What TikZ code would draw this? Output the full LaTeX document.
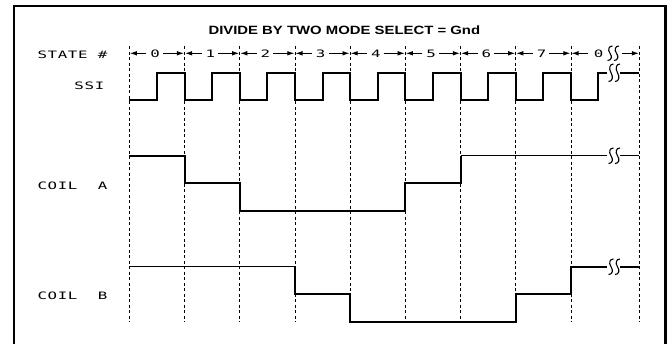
\documentclass[tikz,border=0pt]{standalone}
\usepackage{fontspec}
\setmainfont{Liberation Sans}
\newfontfamily\plotfont[LetterSpace=4]{DejaVu Sans Mono}
\usetikzlibrary{arrows.meta}
\newcommand{\plottxt}[1]{\scalebox{1.55}[1]{\plotfont\fontsize{10.2}{12}\selectfont #1}}
\begin{document}
\begin{tikzpicture}[x=1pt,y=-1pt,
  frameline/.style={line width=2.4pt},
  grid/.style={line width=0.75pt,dash pattern=on 3pt off 2.5pt},
  wavethick/.style={line width=2pt,line join=miter},
  wavethin/.style={line width=1.2pt},
  lbl/.style={inner sep=0pt},
  starrow/.style={-{Latex[length=7pt,width=4.6pt]},line width=0.9pt},
  squig/.style={line width=1.1pt}]
\useasboundingbox (0,0) rectangle (668,343);
% frame
\draw[frameline] (14,344) -- (14,6.2) -- (665.6,6.2) -- (665.6,344);
% title
\node[inner sep=0pt] (title) at (344.3,30.3) {\scalebox{1.24}[1]{\bfseries\fontsize{12}{14}\selectfont DIVIDE BY TWO MODE SELECT = Gnd}};
% x positions
\def\XA{129.3}\def\XB{184.5}\def\XC{239.7}\def\XD{294.9}\def\XE{350.1}
\def\XF{405.3}\def\XG{460.5}\def\XH{515.7}\def\XI{570.9}\def\XJ{639.3}
% dashed grid
\foreach \x in {\XA,\XB,\XC,\XD,\XE,\XF,\XG,\XH,\XI,\XJ}
  \draw[grid] (\x,46) -- (\x,322);
% labels
\node[lbl,anchor=east] (lstate) at (107.5,54.8) {\plottxt{STATE \#}};
\node[lbl,anchor=east] (lssi) at (104.5,85.5) {\plottxt{SSI}};
\node[lbl,anchor=east] (lcoila) at (107.5,185.3) {\plottxt{COIL\ \ A}};
\node[lbl,anchor=east] (lcoilb) at (107.5,296) {\plottxt{COIL\ \ B}};
% state numbers and arrows
\foreach \a/\b/\n [count=\i] in {\XA/\XB/0,\XB/\XC/1,\XC/\XD/2,\XD/\XE/3,\XE/\XF/4,\XF/\XG/5,\XG/\XH/6,\XH/\XI/7}{
  \pgfmathsetmacro{\c}{(\a+\b)/2}
  \node[lbl] (st\i) at (\c-1.8,54) {\plottxt{\n}};
  \coordinate (stl\i) at (\a+0.6,53.3);
  \coordinate (str\i) at (\b-0.6,53.3);
  \draw[starrow] (\c-10.5,53.3) -- (stl\i);
  \draw[starrow] (\c+6,53.3) -- (str\i);
}
\node[lbl] (st9) at (598.5,54) {\plottxt{0}};
\coordinate (stl9) at (\XI+0.6,53.3);
\coordinate (str9) at (\XJ-0.4,53.3);
\draw[starrow] (588,53.3) -- (stl9);
\draw[starrow] (622,53.3) -- (str9);
% squiggle in state row
\foreach \s in {610,616.5}
  \draw[squig] (\s+2.5,46) .. controls (\s-1.5,46) and (\s-2.5,50) .. (\s,53.3) .. controls (\s+2.5,56.5) and (\s+1.5,60.5) .. (\s-2.5,60.5);
% SSI waveform
\draw[wavethick] (\XA,100)
  \foreach \a/\b in {\XA/\XB,\XB/\XC,\XC/\XD,\XD/\XE,\XE/\XF,\XF/\XG,\XG/\XH,\XH/\XI}{
    -- ({(\a+\b)/2},100) -- ({(\a+\b)/2},72.7) -- (\b,72.7) -- (\b,100)}
  -- (598.3,100) -- (598.3,72.7) -- (607,72.7);
\draw[wavethick] (620,72.7) -- (\XJ,72.7);
\foreach \s in {611,617.5}
  \draw[squig] (\s+2.5,64) .. controls (\s-1.5,64) and (\s-2.5,68.5) .. (\s,72.7) .. controls (\s+2.5,77) and (\s+1.5,81.5) .. (\s-2.5,81.5);
% COIL A waveform
\draw[wavethick] (\XA,155.7) -- (\XB,155.7) -- (\XB,183.3) -- (\XC,183.3) -- (\XC,211)
  -- (\XF,211) -- (\XF,183.3) -- (\XG,183.3) -- (\XG,155.7);
\draw[wavethin] (\XG,155.7) -- (607,155.7);
\draw[wavethin] (620,155.7) -- (\XJ,155.7);
\foreach \s in {611,617.5}
  \draw[squig] (\s+2.5,148) .. controls (\s-1.5,148) and (\s-2.5,152) .. (\s,155.7) .. controls (\s+2.5,159.5) and (\s+1.5,163.5) .. (\s-2.5,163.5);
% COIL B waveform
\draw[wavethin] (\XA,266.7) -- (\XD,266.7);
\draw[wavethick] (\XD,266.7) -- (\XD,294) -- (\XE,294) -- (\XE,321.7) -- (\XH,321.7)
  -- (\XH,294) -- (\XI,294) -- (\XI,266.7) -- (607,266.7);
\draw[wavethick] (620,266.7) -- (\XJ,266.7);
\foreach \s in {611,617.5}
  \draw[squig] (\s+2.5,259) .. controls (\s-1.5,259) and (\s-2.5,263) .. (\s,266.7) .. controls (\s+2.5,270.5) and (\s+1.5,274.5) .. (\s-2.5,274.5);
\end{tikzpicture}
\end{document}
